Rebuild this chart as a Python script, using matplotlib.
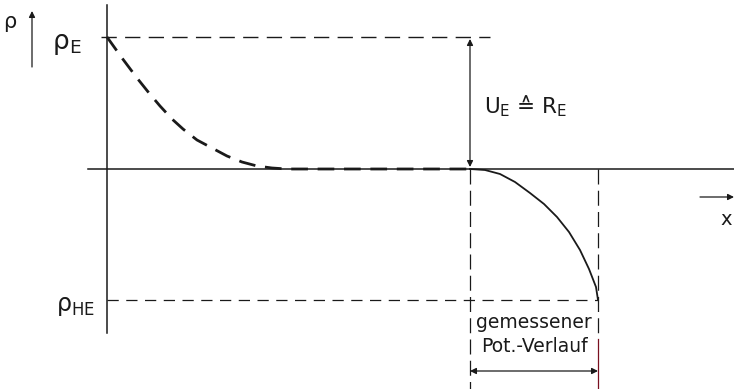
import numpy as np
import matplotlib.pyplot as plt

# drawing units: origin where the rho axis meets the x axis, y upward
rho_E = 132
rho_HE = -131
x_probe = 363      # start of measured region
x_end = 491        # end of measured region

# extrapolated (dashed) potential near the earth electrode
dash_x = [0, 15, 30, 42, 53, 65, 76, 90, 105, 120, 135, 150, 165, 180, 363]
dash_y = [132, 111, 91, 76, 63, 50, 40, 29, 21, 13, 7, 3, 1, 0, 0]

# measured potential curve
meas_x = [363, 378, 393, 408, 423, 437, 450, 462, 473, 482, 489, 491]
meas_y = [0, -1, -5, -13, -24, -35, -48, -63, -81, -100, -118, -131]

ink = "#1a1a1a"
plt.rcParams['font.family'] = ['DejaVu Sans']

fig = plt.figure(figsize=(7.34, 3.89), dpi=100)
ax = fig.add_axes([0, 0, 1, 1])
ax.set_xlim(-107, 627)
ax.set_ylim(-220, 169)
ax.axis('off')

# axes
ax.plot([0, 0], [164, -164], color=ink, lw=1.1)
ax.plot([-19, 627], [0, 0], color=ink, lw=1.1)

# reference levels
ax.plot([-6, 383], [rho_E, rho_E], color=ink, lw=1.0, dashes=(11, 6))
ax.plot([0, x_end], [rho_HE, rho_HE], color=ink, lw=0.9, dashes=(9, 6))

# curves
ax.plot(dash_x, dash_y, color=ink, lw=2.0, dashes=(6, 3.5))
ax.plot(meas_x, meas_y, color=ink, lw=1.3)

# boundaries of the measured region
ax.plot([x_probe, x_probe], [0, -220], color=ink, lw=0.9, dashes=(12, 5))
ax.plot([x_end, x_end], [0, -170], color=ink, lw=0.9, dashes=(12, 5))
ax.plot([x_end, x_end], [-170, -220], color="#7a1020", lw=0.9)

arrow = dict(arrowstyle='<|-|>', color=ink, lw=0.9, mutation_scale=9, shrinkA=0, shrinkB=0)
ax.annotate('', xy=(x_probe, rho_E - 2), xytext=(x_probe, 2), arrowprops=arrow)
ax.annotate('', xy=(x_probe, -202), xytext=(x_end, -202), arrowprops=arrow)

one = dict(arrowstyle='-|>', color=ink, lw=0.9, mutation_scale=9, shrinkA=0, shrinkB=0)
ax.annotate('', xy=(-75, 158), xytext=(-75, 102), arrowprops=one)
ax.annotate('', xy=(627, -28), xytext=(593, -28), arrowprops=one)

# labels
ax.text(-97, 147, 'ρ', fontsize=15, color=ink, ha='center', va='center')
ax.text(-55, 125, r'ρ$_\mathrm{E}$', fontsize=19, color=ink, ha='left', va='center')
ax.text(-51, -137, r'ρ$_\mathrm{HE}$', fontsize=17, color=ink, ha='left', va='center')
ax.text(377, 63, r'U$_\mathrm{E}$ ≙ R$_\mathrm{E}$', fontsize=15.5, color=ink,
        ha='left', va='center')
ax.text(619, -50, 'x', fontsize=14, color=ink, ha='center', va='center')
ax.text(427, -153, 'gemessener', fontsize=13.5, color=ink, ha='center', va='center')
ax.text(427, -178, 'Pot.-Verlauf', fontsize=13.5, color=ink, ha='center', va='center')

fig.savefig('out.png', dpi=100)
